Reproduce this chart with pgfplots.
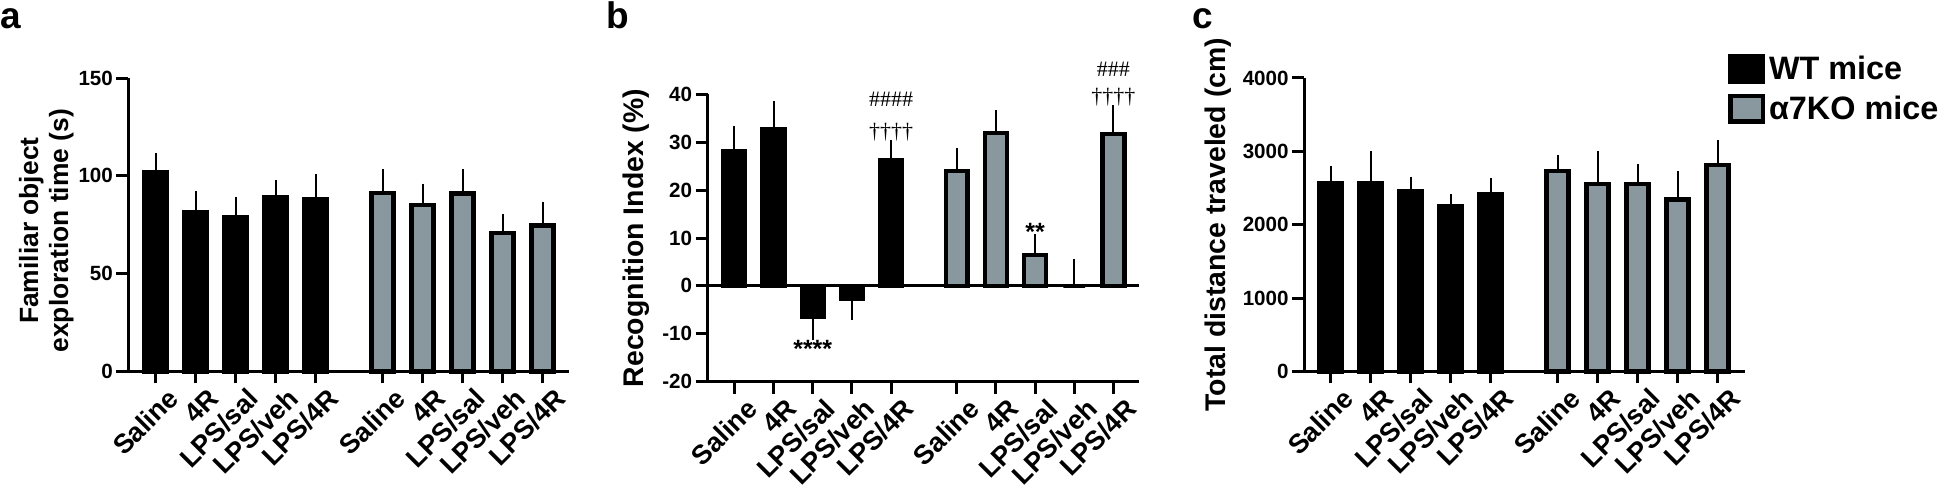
\documentclass[border=0pt]{standalone}
\usepackage{fontspec}
\setmainfont{Liberation Sans}
\newfontfamily\symserif{Liberation Serif}
\usepackage{pgfplots}
\pgfplotsset{compat=1.18}

\definecolor{kogray}{RGB}{136,152,158}

\pgfplotsset{
  prism/.style={
    scale only axis,
    anchor=south west,
    axis lines*=left,
    axis line style={line width=1.5pt},
    tick style={black, line width=1.5pt},
    tick align=outside,
    major tick length=6pt,
    clip=false,
    xtick={0,1,2,3,4,5.67,6.67,7.67,8.67,9.67},
    xticklabels={Saline,4R,LPS/sal,LPS/veh,LPS/4R,Saline,4R,LPS/sal,LPS/veh,LPS/4R},
    xticklabel style={font=\bfseries\fontsize{13.5}{13.5}\selectfont, xshift=9pt, yshift=-5pt, rotate=45, anchor=east, inner sep=0pt},
    yticklabel style={font=\bfseries\fontsize{10.3}{10.3}\selectfont, inner sep=1.5pt},
    ylabel style={font=\bfseries\fontsize{14.2}{16}\selectfont, align=center, at={(rel axis cs:0,0.5)}, anchor=center},
  },
  barbase/.style={ybar, bar width=0.557, bar shift=0, draw=black, line width=2.2pt,
    legend image code/.code={\draw[##1] (1.1pt,-6.4pt) rectangle (17.25pt,6.4pt);},
    error bars/y explicit, error bars/y dir=plus,
    error bars/error bar style={line width=1pt, black},
    error bars/error mark options={line width=1pt, mark size=3.25pt, black}},
  wt/.style={barbase, fill=black},
  ko/.style={barbase, fill=kogray},
  neg/.style={error bars/y dir=minus},
}

\begin{document}
\begin{tikzpicture}
\useasboundingbox (0,0) rectangle (973pt,245.5pt);

% panel letters
\node[anchor=base west, font=\bfseries\fontsize{18.5}{18.5}\selectfont, inner sep=0pt] at (0pt,231pt) {a};
\node[anchor=base west, font=\bfseries\fontsize{18.5}{18.5}\selectfont, inner sep=0pt] at (303pt,231pt) {b};
\node[anchor=base west, font=\bfseries\fontsize{18.5}{18.5}\selectfont, inner sep=0pt] at (596pt,231pt) {c};

% a: familiar object exploration time
\begin{axis}[prism, at={(64.15pt,59.75pt)}, width=220.3pt, height=146.7pt,
  xmin=-0.685, xmax=10.33, ymin=0, ymax=150,
  ytick={0,50,100,150}, yticklabels={0,50,100,150},
  ylabel={Familiar object\\exploration time (s)},
  ylabel style={font=\bfseries\fontsize{13.2}{15}\selectfont, at={(rel axis cs:0,0.48)}, yshift=41pt}]
\addplot[wt] coordinates {
  (0,102.0) +- (0,6.6)
  (1,81.2) +- (0,7.9)
  (2,78.8) +- (0,7.3)
  (3,88.9) +- (0,5.9)
  (4,87.9) +- (0,9.6)
};
\addplot[ko] coordinates {
  (5.67,91.3) +- (0,8.7)
  (6.67,85.0) +- (0,7.7)
  (7.67,90.9) +- (0,9.1)
  (8.67,70.8) +- (0,6.4)
  (9.67,74.7) +- (0,8.5)
};
\end{axis}

% b: recognition index
\begin{axis}[prism, at={(353.75pt,54.65pt)}, width=215.9pt, height=143.7pt,
  xmin=-0.684, xmax=10.33, ymin=-20, ymax=40,
  ytick={-20,-10,0,10,20,30,40}, yticklabels={-20,-10,0,10,20,30,40},
  ylabel={Recognition Index (\%)}, ylabel style={yshift=35.5pt}]
\addplot[wt] coordinates {
  (0,28.05) +- (0,3.95)
  (1,32.75) +- (0,4.45)
  (4,26.15) +- (0,2.95)
};
\addplot[wt, neg] coordinates {
  (2,-6.45) +- (0,3.55)
  (3,-2.75) +- (0,3.05)
};
\addplot[ko] coordinates {
  (5.67,24.0) +- (0,3.4)
  (6.67,31.95) +- (0,3.35)
  (7.67,6.45) +- (0,3.05)
  (8.67,0) +- (0,4.2)
  (9.67,31.75) +- (0,4.65)
};
\draw[line width=1.5pt] (axis cs:-0.684,0) -- (axis cs:10.33,0);
\node[font=\bfseries\fontsize{12.5}{12.5}\selectfont] at (axis cs:2,-13.1) {****};
\node[font=\bfseries\fontsize{12.5}{12.5}\selectfont] at (axis cs:7.67,11.2) {**};
\node[font=\symserif\fontsize{11}{11}\selectfont] at (axis cs:4,32.1) {††††};
\node[font=\symserif\fontsize{11}{11}\selectfont] at (axis cs:4,38.9) {\#\#\#\#};
\node[font=\symserif\fontsize{11}{11}\selectfont] at (axis cs:9.67,39.5) {††††};
\node[font=\symserif\fontsize{11}{11}\selectfont] at (axis cs:9.67,45.2) {\#\#\#};
\end{axis}

% c: total distance traveled
\begin{axis}[prism, at={(652pt,59.75pt)}, width=220.55pt, height=146.75pt,
  xmin=-0.6675, xmax=10.36, ymin=0, ymax=4000,
  ytick={0,1000,2000,3000,4000}, yticklabels={0,1000,2000,3000,4000},
  ylabel={Total distance traveled (cm)}, ylabel style={yshift=43pt},
  legend style={at={(rel axis cs:0.961,1.0896)}, anchor=north west, draw=none, fill=none,
    font=\bfseries\fontsize{16.2}{16.2}\selectfont, inner sep=0pt, row sep=2.5pt},
  legend cell align=left]
\addplot[wt] coordinates {
  (0,2561) +- (0,157)
  (1,2561) +- (0,357)
  (2,2452) +- (0,112)
  (3,2247) +- (0,85)
  (4,2420) +- (0,125)
};
\addlegendentry{WT mice}
\addplot[ko] coordinates {
  (5.67,2734) +- (0,134)
  (6.67,2556) +- (0,362)
  (7.67,2557) +- (0,184)
  (8.67,2343) +- (0,298)
  (9.67,2812) +- (0,252)
};
\addlegendentry{α7KO mice}
\end{axis}
\end{tikzpicture}
\end{document}
